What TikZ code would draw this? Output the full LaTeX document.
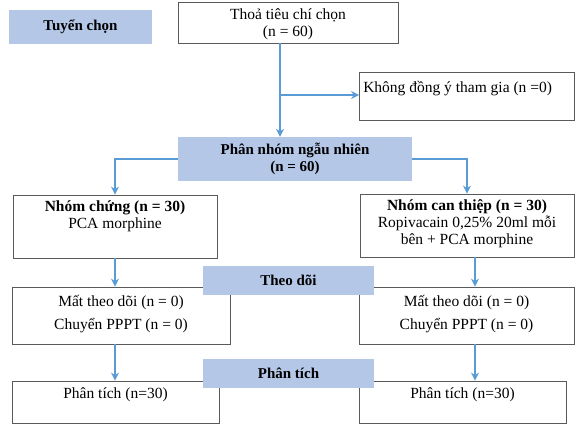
\documentclass[tikz,border=0pt]{standalone}
\usepackage{fontspec}
\setmainfont{Liberation Serif}
\usepackage{xcolor}
\usetikzlibrary{arrows.meta,positioning,calc}

\definecolor{bandblue}{RGB}{180,199,231}
\definecolor{flowblue}{RGB}{91,155,213}
\definecolor{boxgray}{RGB}{90,90,90}

\begin{document}
\begin{tikzpicture}[x=1pt, y=-1pt,
    box/.style={draw=boxgray, line width=0.8pt, inner sep=0pt},
    band/.style={fill=bandblue, inner sep=0pt},
    txt/.style={inner sep=0pt, align=center, font=\fontsize{15.5}{17}\selectfont},
    bold/.style={txt, font=\fontsize{15}{17}\selectfont\bfseries},
    flow/.style={draw=flowblue, line width=2.8pt, -{Stealth[length=8pt,width=8pt]}}]
    \useasboundingbox (0,0) rectangle (575,424);

    % Selection
    \node[band, minimum width=143pt, minimum height=34pt] (sel) at (80.5,26.5) {};
    \node[bold] at (sel) {Tuyển chọn};
    \node[box, minimum width=220pt, minimum height=41pt] (elig) at (288,22.5) {};
    \node[txt, anchor=north] at ($(elig.north)+(0,7)$) {Thoả tiêu chí chọn\\(n = 60)};
    \node[box, minimum width=215pt, minimum height=48pt] (refuse) at (467,96) {};
    \node[txt, anchor=north west] at ($(refuse.north west)+(4,9)$) {Không đồng ý tham gia (n =0)};

    % Randomisation
    \node[band, minimum width=234pt, minimum height=44pt] (rand) at (295,159) {};
    \node[bold] at (rand) {Phân nhóm ngẫu nhiên\\(n = 60)};

    % Groups
    \node[box, minimum width=204pt, minimum height=63pt] (ctrl) at (115,226.5) {};
    \node[txt, anchor=north] at ($(ctrl.north)+(0,6)$) {\textbf{Nhóm chứng (n = 30)}\\PCA morphine};
    \node[box, minimum width=214pt, minimum height=63pt] (intv) at (467,225.5) {};
    \node[txt, anchor=north] at ($(intv.north)+(0,6)$) {\textbf{Nhóm can thiệp (n = 30)}\\Ropivacain 0,25\% 20ml mỗi\\bên + PCA morphine};

    % Follow-up
    \node[box, minimum width=218pt, minimum height=57pt] (lostL) at (121,315.5) {};
    \node[txt, anchor=north] at ($(lostL.north)+(0,8)$) {Mất theo dõi (n = 0)\\[6pt]Chuyển PPPT (n = 0)};
    \node[box, minimum width=215pt, minimum height=57pt] (lostR) at (466.5,315.5) {};
    \node[txt, anchor=north] at ($(lostR.north)+(0,8)$) {Mất theo dõi (n = 0)\\[6pt]Chuyển PPPT (n = 0)};
    \node[band, minimum width=171pt, minimum height=29pt] (follow) at (288.5,280.5) {};
    \node[bold] at (follow) {Theo dõi};

    % Analysis
    \node[box, minimum width=207pt, minimum height=42pt] (anaL) at (115.5,402) {};
    \node[txt, anchor=north] at ($(anaL.north)+(0,7)$) {Phân tích (n=30)};
    \node[box, minimum width=207pt, minimum height=42pt] (anaR) at (462.5,402) {};
    \node[txt, anchor=north] at ($(anaR.north)+(0,7)$) {Phân tích (n=30)};
    \node[band, minimum width=171pt, minimum height=29pt] (analysis) at (288.5,373.5) {};
    \node[bold] at (analysis) {Phân tích};

    % Connectors
    \coordinate (split) at (280,95);
    \draw[flow] (elig.south -| split) -- (rand.north -| split);
    \draw[flow] (split) -- (refuse.west |- split);
    \draw[flow] (rand.west) -| (ctrl.north);
    \draw[flow] (rand.east) -| (intv.north);
    \draw[flow] (ctrl.south) -- (ctrl.south |- lostL.north);
    \draw[flow] (intv.south -| 475,0) -- (lostR.north -| 475,0);
    \draw[flow] (ctrl.south |- lostL.south) -- (ctrl.south |- anaL.north);
    \draw[flow] (lostR.south -| 475,0) -- (anaR.north -| 475,0);
\end{tikzpicture}
\end{document}
